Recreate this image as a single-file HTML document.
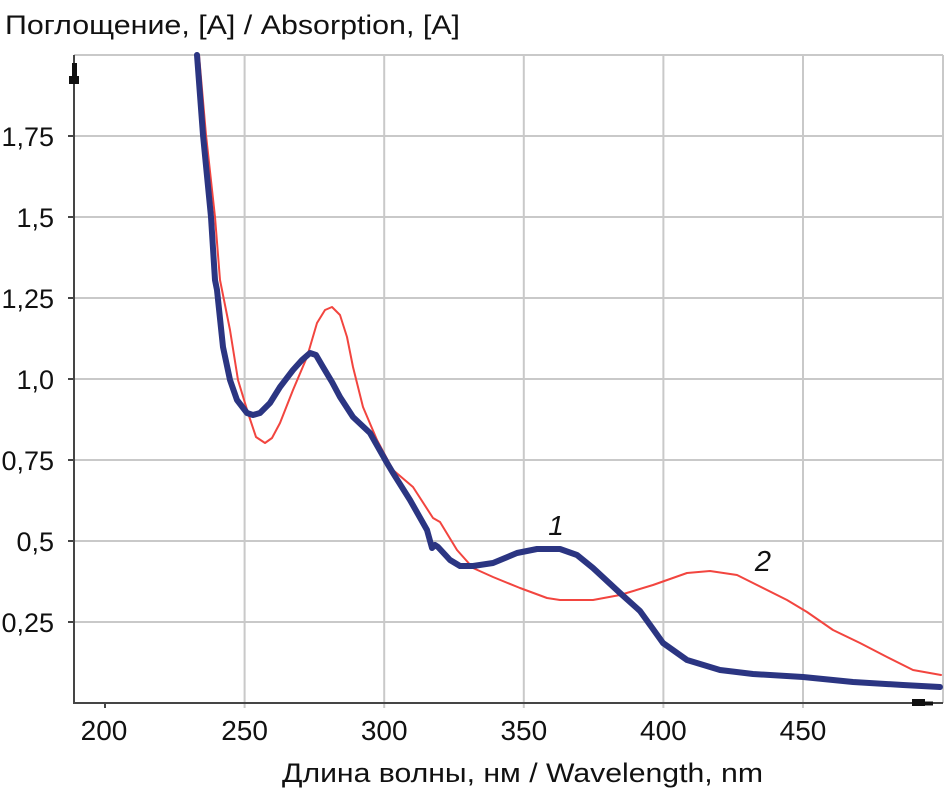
<!DOCTYPE html>
<html>
<head>
<meta charset="utf-8">
<style>
html,body{margin:0;padding:0;background:#fff;}
svg{display:block;}
text{font-family:"Liberation Sans","DejaVu Sans",sans-serif;fill:#111;}
</style>
</head>
<body>
<svg width="945" height="794" viewBox="0 0 945 794" xmlns="http://www.w3.org/2000/svg">
<rect x="0" y="0" width="945" height="794" fill="#fff"/>
<!-- grid -->
<g stroke="#c9c9c9" stroke-width="2" fill="none">
<line x1="74" y1="55" x2="943" y2="55"/>
<line x1="74" y1="136" x2="943" y2="136"/>
<line x1="74" y1="217" x2="943" y2="217"/>
<line x1="74" y1="298" x2="943" y2="298"/>
<line x1="74" y1="379" x2="943" y2="379"/>
<line x1="74" y1="460" x2="943" y2="460"/>
<line x1="74" y1="541" x2="943" y2="541"/>
<line x1="74" y1="622" x2="943" y2="622"/>
<line x1="244.6" y1="55" x2="244.6" y2="708"/>
<line x1="384.2" y1="55" x2="384.2" y2="708"/>
<line x1="523.8" y1="55" x2="523.8" y2="708"/>
<line x1="663.4" y1="55" x2="663.4" y2="708"/>
<line x1="803" y1="55" x2="803" y2="708"/>
<line x1="943" y1="55" x2="943" y2="703"/>
</g>
<!-- axes -->
<g stroke="#454545" stroke-width="2" fill="none">
<line x1="74" y1="55" x2="74" y2="704"/>
<line x1="73" y1="703" x2="943" y2="703"/>
<line x1="68" y1="136" x2="74" y2="136"/>
<line x1="68" y1="217" x2="74" y2="217"/>
<line x1="68" y1="298" x2="74" y2="298"/>
<line x1="68" y1="379" x2="74" y2="379"/>
<line x1="68" y1="460" x2="74" y2="460"/>
<line x1="68" y1="541" x2="74" y2="541"/>
<line x1="68" y1="622" x2="74" y2="622"/>
<line x1="105" y1="703" x2="105" y2="708"/>
</g>
<!-- axis markers -->
<rect x="72" y="63" width="5" height="15" fill="#111"/>
<rect x="69" y="76" width="10" height="8" fill="#111"/>
<rect x="912" y="699" width="13" height="7" fill="#111"/>
<rect x="924" y="701.5" width="9" height="4" fill="#111"/>
<!-- red curve 2 -->
<polyline fill="none" stroke="#f2453f" stroke-width="2" stroke-linejoin="round" stroke-linecap="round"
points="199,55 206,135 215,217 220,280 222,290 230,330 238,380 248,413 256,437 265,443 272,438 280,423 293,390 307,357 317,323 325,310 332,307 340,315 347,337 353,367 363,407 377,440 393,470 413,487 433,518 440,522 457,550 473,568 493,577 520,588 547,598 560,600 593,600 620,595 653,585 687,573 710,571 737,575 753,583 787,600 807,612 833,630 860,643 887,657 913,670 941,675"/>
<!-- blue curve 1 -->
<polyline fill="none" stroke="#2b3582" stroke-width="6" stroke-linejoin="round" stroke-linecap="round"
points="197,55 203,135 211,217 215,280 217,290 223,347 230,380 237,400 247,413 253,415 260,413 270,403 280,387 293,370 302,360 310,353 316,355 323,367 332,382 340,397 353,417 370,433 387,463 393,473 410,500 427,530 432,548 435,545 438,547 450,560 460,566 473,566 493,563 517,553 537,549 560,549 577,555 593,568 620,593 640,611 653,629 663,643 687,660 720,670 753,674 803,677 853,682 903,685 940,687"/>
<!-- curve labels -->
<text x="556" y="535" font-size="28" font-style="italic" text-anchor="middle">1</text>
<text x="763" y="571" font-size="29" font-style="italic" text-anchor="middle">2</text>
<!-- y tick labels -->
<g font-size="27" text-anchor="end">
<text x="54" y="146">1,75</text>
<text x="54" y="227">1,5</text>
<text x="54" y="308">1,25</text>
<text x="54" y="389">1,0</text>
<text x="54" y="470">0,75</text>
<text x="54" y="551">0,5</text>
<text x="54" y="632">0,25</text>
</g>
<!-- x tick labels -->
<g font-size="28" text-anchor="middle">
<text x="104" y="740">200</text>
<text x="244.6" y="740">250</text>
<text x="384.2" y="740">300</text>
<text x="523.8" y="740">350</text>
<text x="663.4" y="740">400</text>
<text x="803" y="740">450</text>
</g>
<!-- titles -->
<text x="5" y="34" font-size="27" textLength="455" lengthAdjust="spacingAndGlyphs">Поглощение,  [A]  /  Absorption,  [A]</text>
<text x="282" y="782" font-size="27" textLength="481" lengthAdjust="spacingAndGlyphs">Длина  волны,  нм  /  Wavelength,  nm</text>
</svg>
</body>
</html>
